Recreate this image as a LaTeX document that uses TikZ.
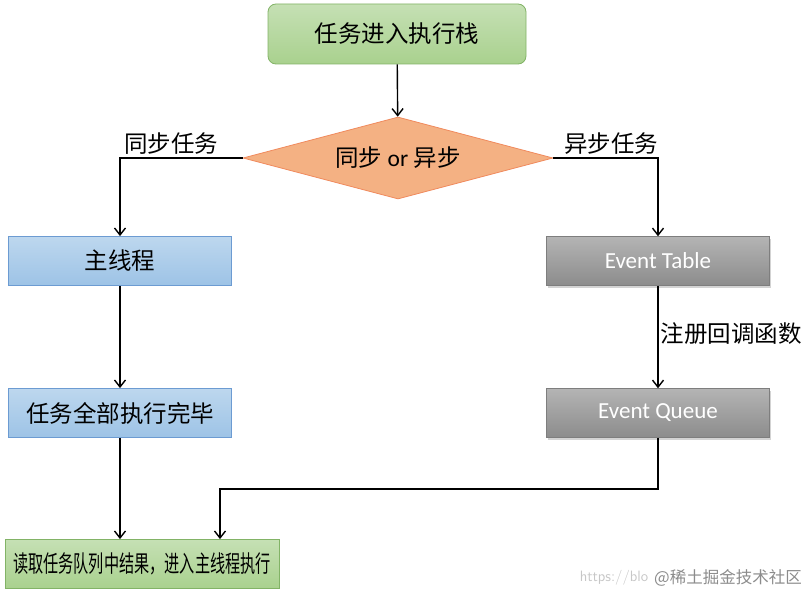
\documentclass[tikz,border=0pt]{standalone}
\usepackage{fontspec}
\setmainfont{Carlito}
\newfontfamily\cjk{Noto Sans CJK SC}
\usetikzlibrary{arrows.meta,shapes.geometric,shadows}
\definecolor{grA}{HTML}{C5E0B4}
\definecolor{grB}{HTML}{A9D18E}
\definecolor{grLine}{HTML}{82B366}
\definecolor{blA}{HTML}{BDD7EE}
\definecolor{blB}{HTML}{9DC3E6}
\definecolor{blLine}{HTML}{6C9BD2}
\definecolor{gyA}{HTML}{B4B4B4}
\definecolor{gyB}{HTML}{8C8C8C}
\definecolor{orFill}{HTML}{F4B183}
\definecolor{orLine}{HTML}{F08A5D}
\tikzset{
  every node/.style={inner sep=0pt, font=\cjk\fontsize{23.5}{26}\selectfont},
  greenbox/.style={rectangle, draw=grLine, line width=0.8pt, top color=grA, bottom color=grB},
  bluebox/.style={rectangle, draw=blLine, line width=0.8pt, minimum width=223pt, minimum height=49pt, top color=blA, bottom color=blB},
  graybox/.style={rectangle, draw=gyB!90!black, line width=0.5pt, minimum width=223pt, minimum height=49pt, top color=gyA, bottom color=gyB, text=white, font=\fontsize{23}{26}\selectfont, drop shadow={shadow xshift=1.5pt, shadow yshift=-2pt, opacity=0.35}},
  decision/.style={diamond, draw=orLine, line width=0.8pt, fill=orFill, aspect=3.78, minimum width=310pt, minimum height=82pt},
  conn/.style={line width=1.4pt, -{Straight Barb[length=7pt,width=11pt,line width=1.4pt]}},
  edgelabel/.style={font=\cjk\fontsize{23.5}{26}\selectfont}
}
\begin{document}
\begin{tikzpicture}[x=1pt,y=-1pt]
\useasboundingbox (0,0) rectangle (808,594);
\node[greenbox, rounded corners=8pt, minimum width=258pt, minimum height=60pt] (start) at (397,34) {任务进入执行栈};
\node[decision] (dec) at (398,158) {同步 {\fontspec{Carlito}or} 异步};
\node[bluebox] (main) at (120,261) {主线程};
\node[bluebox] (done) at (120,413) {任务全部执行完毕};
\node[graybox] (table) at (658,261) {Event Table};
\node[graybox] (queue) at (658,413) {Event Queue};
\node[greenbox, minimum width=274pt, minimum height=49pt] (final) at (142,564) {\scalebox{0.645}[1]{读取任务队列中结果，进入主线程执行}};
\coordinate (q1) at (658,489);
\coordinate (q2) at (220,489);

\draw[conn] (start) -- (dec);
\draw[conn] (dec.west) -| (main.north);
\draw[conn] (dec.east) -| (table.north);
\draw[conn] (main) -- (done);
\draw[conn] (table) -- (queue);
\draw[conn] (done.south) -- (done.south |- final.north);
\draw[conn] (queue.south) -- (q1) -- (q2) -- (q2 |- final.north);

\node[edgelabel] (l1) at (171,144) {同步任务};
\node[edgelabel] (l2) at (611,144) {异步任务};
\node[edgelabel] (l3) at (731,334) {注册回调函数};

\node[text=black!22, font=\sffamily\fontsize{15}{17}\selectfont] (wm1) at (614,578) {https://blo};
\node[text=black!45, font=\cjk\fontsize{16.5}{18}\selectfont] (wm2) at (728,578) {@稀土掘金技术社区};
\end{tikzpicture}
\end{document}
